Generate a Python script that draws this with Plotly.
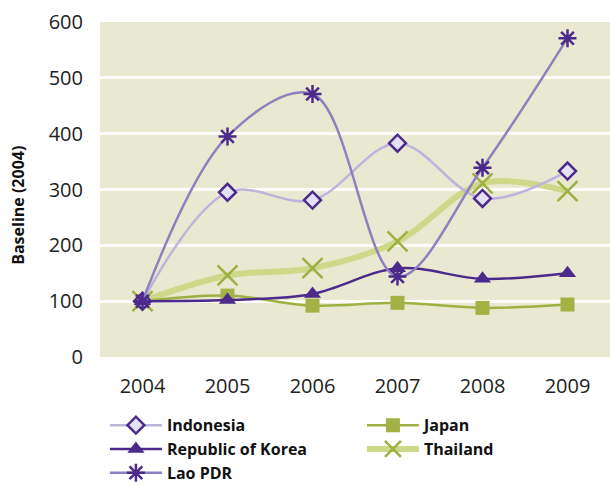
import plotly.graph_objects as go

years = ["2004", "2005", "2006", "2007", "2008", "2009"]
indonesia = [100, 295, 281, 383, 284, 333]
japan = [100, 110, 92, 97, 88, 94]
korea = [100, 102, 113, 159, 140, 150]
thailand = [100, 146, 159, 207, 311, 297]
lao = [100, 395, 471, 144, 339, 571]
y_ticks = [0, 100, 200, 300, 400, 500, 600]
y_title = "Baseline (2004)"

DARK = "#4b2a8c"
fig = go.Figure()

fig.add_trace(go.Scatter(
    x=years, y=thailand, name="Thailand", mode="lines+markers", legendrank=4,
    line=dict(color="#cdd888", width=6, shape="spline", smoothing=1),
    marker=dict(symbol="x-thin", size=20, color="#9db142", line=dict(color="#9db142", width=2.5))))
fig.add_trace(go.Scatter(
    x=years, y=japan, name="Japan", mode="lines+markers", legendrank=2,
    line=dict(color="#9db142", width=2.5, shape="spline", smoothing=1),
    marker=dict(symbol="square", size=14, color="#a3b244")))
fig.add_trace(go.Scatter(
    x=years, y=indonesia, name="Indonesia", mode="lines+markers", legendrank=1,
    line=dict(color="#bdb4dc", width=2.5, shape="spline", smoothing=1),
    marker=dict(symbol="diamond", size=13, color="#e4e1f2", line=dict(color=DARK, width=2.5))))
fig.add_trace(go.Scatter(
    x=years, y=korea, name="Republic of Korea", mode="lines+markers", legendrank=3,
    line=dict(color=DARK, width=2.5, shape="spline", smoothing=1),
    marker=dict(symbol="triangle-up", size=15, color=DARK)))
fig.add_trace(go.Scatter(
    x=years, y=lao, name="Lao PDR", mode="lines+markers", legendrank=5,
    line=dict(color="#8e80c0", width=2.5, shape="spline", smoothing=1),
    marker=dict(symbol="asterisk", size=15, color=DARK, line=dict(color=DARK, width=2.5))))

fig.update_layout(
    width=610, height=486,
    margin=dict(l=100, r=0, t=22, b=129),
    paper_bgcolor="white",
    plot_bgcolor="#e9e8d0",
    font=dict(family="Open Sans, sans-serif", color="#222222", size=20),
    showlegend=True,
    legend=dict(orientation="h", xref="container", yref="container",
                x=0.172, xanchor="left", y=0.16, yanchor="top",
                entrywidth=190, entrywidthmode="pixels", traceorder="normal",
                font=dict(size=16, color="#111111", family="Open Sans, sans-serif", weight="bold"),
                itemwidth=52, tracegroupgap=0, bgcolor="rgba(0,0,0,0)"),
    xaxis=dict(type="category", range=[-0.5, 5.5], showgrid=False, zeroline=False,
               showline=False, ticks="", tickfont=dict(size=20), ticklabelstandoff=15,
               automargin=False),
    yaxis=dict(range=[0, 600], tickvals=y_ticks, showgrid=True, gridcolor="white", gridwidth=3,
               zeroline=False, showline=False, tickfont=dict(size=20), ticklabelstandoff=16,
               automargin=False),
    annotations=[dict(text=y_title, textangle=-90, xref="paper", yref="paper",
                      x=-0.161, y=0.454, xanchor="center", yanchor="middle", showarrow=False,
                      font=dict(size=16, weight="bold", color="#111111"))],
)

fig.write_html("out.html", config={"displayModeBar": False},
               post_script="document.body.style.margin='0';document.body.style.overflow='hidden';")
